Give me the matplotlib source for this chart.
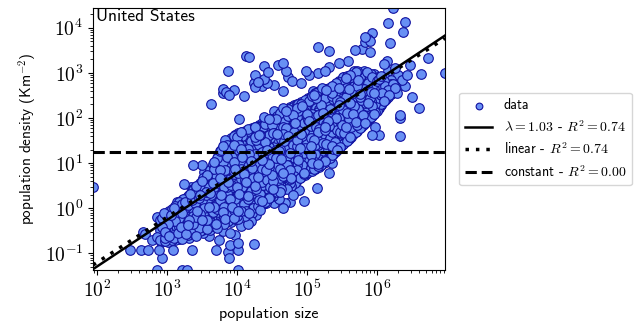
import numpy as np
import matplotlib
matplotlib.use("Agg")
import matplotlib.pyplot as plt
from matplotlib.ticker import FuncFormatter, NullFormatter

plt.rcParams['mathtext.fontset'] = 'cm'
plt.rcParams['font.family'] = ['cmss10', 'DejaVu Sans']
plt.rcParams['axes.unicode_minus'] = False

# ---- data (log10 population size, log10 density) ----
# dense core of the cloud, one list of log10 densities per log10 size column
core_columns = {
    2.90: [-0.70, -0.48, -0.26],
    2.95: [-0.60, -0.38],
    3.00: [-0.68, -0.46, -0.24],
    3.05: [-0.58, -0.36, -0.14],
    3.10: [-0.66, -0.44, -0.22, 0.00],
    3.15: [-0.55, -0.33, -0.11, 0.08],
    3.20: [-0.63, -0.41, -0.19, 0.03],
    3.25: [-0.52, -0.30, -0.08, 0.14],
    3.30: [-0.59, -0.37, -0.15, 0.07, 0.27],
    3.35: [-0.48, -0.26, -0.04, 0.18, 0.36],
    3.40: [-0.55, -0.33, -0.11, 0.11, 0.33],
    3.45: [-0.44, -0.22, 0.00, 0.22, 0.44],
    3.50: [-0.48, -0.26, -0.04, 0.18, 0.40, 0.60],
    3.55: [-0.37, -0.15, 0.07, 0.29, 0.51, 0.69],
    3.60: [-0.42, -0.20, 0.02, 0.24, 0.46, 0.68],
    3.65: [-0.31, -0.09, 0.13, 0.35, 0.57, 0.79, 0.92],
    3.70: [-0.36, -0.14, 0.08, 0.30, 0.52, 0.74, 0.96],
    3.75: [-0.25, -0.03, 0.19, 0.41, 0.63, 0.85, 1.07, 1.22],
    3.80: [-0.30, -0.08, 0.14, 0.36, 0.58, 0.80, 1.02, 1.24, 1.37],
    3.85: [-0.19, 0.03, 0.25, 0.47, 0.69, 0.91, 1.13, 1.35],
    3.90: [-0.24, -0.02, 0.20, 0.42, 0.64, 0.86, 1.08, 1.30, 1.52],
    3.95: [-0.13, 0.09, 0.31, 0.53, 0.75, 0.97, 1.19, 1.41, 1.59],
    4.00: [-0.18, 0.04, 0.26, 0.48, 0.70, 0.92, 1.14, 1.36, 1.58],
    4.05: [-0.07, 0.15, 0.37, 0.59, 0.81, 1.03, 1.25, 1.47, 1.66],
    4.10: [-0.12, 0.10, 0.32, 0.54, 0.76, 0.98, 1.20, 1.42, 1.64],
    4.15: [-0.01, 0.21, 0.43, 0.65, 0.87, 1.09, 1.31, 1.53, 1.72],
    4.20: [-0.06, 0.16, 0.38, 0.60, 0.82, 1.04, 1.26, 1.48, 1.70],
    4.25: [0.05, 0.27, 0.49, 0.71, 0.93, 1.15, 1.37, 1.59, 1.77],
    4.30: [0.04, 0.26, 0.48, 0.70, 0.92, 1.14, 1.36, 1.58, 1.79],
    4.35: [0.15, 0.37, 0.59, 0.81, 1.03, 1.25, 1.47, 1.69, 1.83],
    4.40: [0.14, 0.36, 0.58, 0.80, 1.02, 1.24, 1.46, 1.68, 1.87],
    4.45: [0.25, 0.47, 0.69, 0.91, 1.13, 1.35, 1.57, 1.79, 1.92],
    4.50: [0.30, 0.52, 0.74, 0.96, 1.18, 1.40, 1.62, 1.84, 1.97],
    4.55: [0.41, 0.63, 0.85, 1.07, 1.29, 1.51, 1.73, 1.95],
    4.60: [0.38, 0.60, 0.82, 1.04, 1.26, 1.48, 1.70, 1.92, 2.06],
    4.65: [0.49, 0.71, 0.93, 1.15, 1.37, 1.59, 1.81, 2.03],
    4.70: [0.46, 0.68, 0.90, 1.12, 1.34, 1.56, 1.78, 2.00, 2.16],
    4.75: [0.57, 0.79, 1.01, 1.23, 1.45, 1.67, 1.89, 2.11],
    4.80: [0.52, 0.74, 0.96, 1.18, 1.40, 1.62, 1.84, 2.06, 2.25],
    4.85: [0.63, 0.85, 1.07, 1.29, 1.51, 1.73, 1.95, 2.17],
    4.90: [0.68, 0.90, 1.12, 1.34, 1.56, 1.78, 2.00, 2.22],
    4.95: [0.79, 1.01, 1.23, 1.45, 1.67, 1.89, 2.11, 2.33],
    5.00: [0.78, 1.00, 1.22, 1.44, 1.66, 1.88, 2.10, 2.32],
    5.05: [0.89, 1.11, 1.33, 1.55, 1.77, 1.99, 2.21, 2.43],
    5.10: [0.86, 1.08, 1.30, 1.52, 1.74, 1.96, 2.18, 2.40, 2.52],
    5.15: [0.97, 1.19, 1.41, 1.63, 1.85, 2.07, 2.29, 2.51],
    5.20: [0.96, 1.18, 1.40, 1.62, 1.84, 2.06, 2.28, 2.50],
    5.25: [1.07, 1.29, 1.51, 1.73, 1.95, 2.17, 2.39, 2.61],
    5.30: [1.06, 1.28, 1.50, 1.72, 1.94, 2.16, 2.38, 2.60],
    5.35: [1.17, 1.39, 1.61, 1.83, 2.05, 2.27, 2.49, 2.68],
    5.40: [1.24, 1.46, 1.68, 1.90, 2.12, 2.34, 2.56, 2.72],
    5.45: [1.35, 1.57, 1.79, 2.01, 2.23, 2.45, 2.67],
    5.50: [1.40, 1.62, 1.84, 2.06, 2.28, 2.50, 2.72, 2.86],
    5.55: [1.51, 1.73, 1.95, 2.17, 2.39, 2.61, 2.83],
    5.60: [1.54, 1.76, 1.98, 2.20, 2.42, 2.64, 2.86],
    5.65: [1.65, 1.87, 2.09, 2.31, 2.53, 2.75, 2.97],
    5.70: [1.70, 1.92, 2.14, 2.36, 2.58, 2.80, 3.02],
    5.75: [1.81, 2.03, 2.25, 2.47, 2.69, 2.91],
    5.80: [1.84, 2.06, 2.28, 2.50, 2.72, 2.94],
    5.85: [1.95, 2.17, 2.39, 2.61, 2.83, 3.02],
    5.90: [2.00, 2.22, 2.44, 2.66, 2.88],
    5.95: [2.11, 2.33, 2.55, 2.77, 2.97],
    6.00: [2.16, 2.38, 2.60, 2.82],
    6.05: [2.29, 2.51, 2.73, 2.93],
    6.10: [2.38, 2.60, 2.82],
    6.15: [2.49, 2.71],
    6.20: [2.53, 2.75],
    6.25: [2.66],
}

# second pass over the core, between the columns above
core_columns_b = {
    2.925: [-0.64, -0.42, -0.22],
    2.975: [-0.73, -0.52, -0.30, -0.17],
    3.025: [-0.62, -0.40, -0.19],
    3.075: [-0.70, -0.50, -0.27, -0.06],
    3.125: [-0.60, -0.39, -0.16, 0.05],
    3.175: [-0.68, -0.47, -0.25, -0.02, 0.12],
    3.225: [-0.57, -0.35, -0.13, 0.09, 0.20],
    3.275: [-0.64, -0.43, -0.21, 0.01, 0.22],
    3.325: [-0.53, -0.31, -0.09, 0.13, 0.32],
    3.375: [-0.60, -0.40, -0.17, 0.05, 0.27, 0.43],
    3.425: [-0.49, -0.27, -0.06, 0.16, 0.38, 0.50],
    3.475: [-0.53, -0.32, -0.10, 0.12, 0.34, 0.55],
    3.525: [-0.43, -0.21, 0.01, 0.23, 0.45, 0.64],
    3.575: [-0.47, -0.26, -0.04, 0.18, 0.40, 0.62, 0.74],
    3.625: [-0.37, -0.15, 0.07, 0.29, 0.51, 0.73, 0.86],
    3.675: [-0.41, -0.20, 0.02, 0.24, 0.46, 0.68, 0.88, 1.02],
    3.725: [-0.31, -0.09, 0.13, 0.35, 0.57, 0.79, 1.01, 1.15],
    3.775: [-0.35, -0.14, 0.08, 0.30, 0.52, 0.74, 0.96, 1.18, 1.30],
    3.825: [-0.25, -0.03, 0.19, 0.41, 0.63, 0.85, 1.07, 1.29, 1.42],
    3.875: [-0.29, -0.08, 0.14, 0.36, 0.58, 0.80, 1.02, 1.24, 1.46],
    3.925: [-0.19, 0.03, 0.25, 0.47, 0.69, 0.91, 1.13, 1.35, 1.56],
    3.975: [-0.23, -0.02, 0.20, 0.42, 0.64, 0.86, 1.08, 1.30, 1.50, 1.62],
    4.025: [-0.13, 0.09, 0.31, 0.53, 0.75, 0.97, 1.19, 1.41, 1.61],
    4.075: [-0.16, 0.04, 0.26, 0.48, 0.70, 0.92, 1.14, 1.36, 1.57, 1.68],
    4.125: [-0.07, 0.15, 0.37, 0.59, 0.81, 1.03, 1.25, 1.47, 1.67],
    4.175: [-0.10, 0.11, 0.33, 0.55, 0.77, 0.99, 1.21, 1.43, 1.64, 1.74],
    4.225: [0.00, 0.22, 0.44, 0.66, 0.88, 1.10, 1.32, 1.54, 1.75],
    4.275: [-0.01, 0.20, 0.42, 0.64, 0.86, 1.08, 1.30, 1.52, 1.72],
    4.325: [0.09, 0.31, 0.53, 0.75, 0.97, 1.19, 1.41, 1.63, 1.82],
    4.375: [0.09, 0.30, 0.52, 0.74, 0.96, 1.18, 1.40, 1.62, 1.80],
    4.425: [0.19, 0.41, 0.63, 0.85, 1.07, 1.29, 1.51, 1.73, 1.90],
    4.475: [0.25, 0.46, 0.68, 0.90, 1.12, 1.34, 1.56, 1.78, 1.95],
    4.525: [0.35, 0.57, 0.79, 1.01, 1.23, 1.45, 1.67, 1.89, 2.00],
    4.575: [0.36, 0.54, 0.76, 0.98, 1.20, 1.42, 1.64, 1.86, 2.04],
    4.625: [0.43, 0.65, 0.87, 1.09, 1.31, 1.53, 1.75, 1.97, 2.10],
    4.675: [0.42, 0.62, 0.84, 1.06, 1.28, 1.50, 1.72, 1.94, 2.13],
    4.725: [0.51, 0.73, 0.95, 1.17, 1.39, 1.61, 1.83, 2.05, 2.19],
    4.775: [0.50, 0.68, 0.90, 1.12, 1.34, 1.56, 1.78, 2.00, 2.20],
    4.825: [0.57, 0.79, 1.01, 1.23, 1.45, 1.67, 1.89, 2.11, 2.27],
    4.875: [0.66, 0.84, 1.06, 1.28, 1.50, 1.72, 1.94, 2.16, 2.30],
    4.925: [0.73, 0.95, 1.17, 1.39, 1.61, 1.83, 2.05, 2.27],
    4.975: [0.74, 0.90, 1.12, 1.34, 1.56, 1.78, 2.00, 2.22, 2.40],
    5.025: [0.83, 1.05, 1.27, 1.49, 1.71, 1.93, 2.15, 2.37],
    5.075: [0.82, 1.00, 1.22, 1.44, 1.66, 1.88, 2.10, 2.32, 2.48],
    5.125: [0.91, 1.13, 1.35, 1.57, 1.79, 2.01, 2.23, 2.45, 2.55],
    5.175: [0.92, 1.10, 1.32, 1.54, 1.76, 1.98, 2.20, 2.42, 2.60],
    5.225: [1.01, 1.23, 1.45, 1.67, 1.89, 2.11, 2.33, 2.55, 2.64],
    5.275: [1.02, 1.20, 1.42, 1.64, 1.86, 2.08, 2.30, 2.52, 2.63],
    5.325: [1.11, 1.33, 1.55, 1.77, 1.99, 2.21, 2.43, 2.62],
    5.375: [1.20, 1.32, 1.54, 1.76, 1.98, 2.20, 2.42, 2.62, 2.72],
    5.425: [1.29, 1.51, 1.73, 1.95, 2.17, 2.39, 2.61, 2.76],
    5.475: [1.36, 1.48, 1.70, 1.92, 2.14, 2.36, 2.58, 2.80],
    5.525: [1.45, 1.67, 1.89, 2.11, 2.33, 2.55, 2.77, 2.90],
    5.575: [1.50, 1.68, 1.90, 2.12, 2.34, 2.56, 2.78, 2.94],
    5.625: [1.59, 1.81, 2.03, 2.25, 2.47, 2.69, 2.91],
    5.675: [1.68, 1.82, 2.04, 2.26, 2.48, 2.70, 2.92, 3.04],
    5.725: [1.75, 1.97, 2.19, 2.41, 2.63, 2.85, 3.03],
    5.775: [1.80, 1.96, 2.18, 2.40, 2.62, 2.84, 3.00],
    5.825: [1.89, 2.11, 2.33, 2.55, 2.77, 2.96],
    5.875: [1.98, 2.12, 2.34, 2.56, 2.78, 2.97],
    5.925: [2.05, 2.27, 2.49, 2.71, 2.92],
    5.975: [2.13, 2.30, 2.52, 2.74, 2.90],
    6.025: [2.22, 2.44, 2.66, 2.86],
    6.075: [2.33, 2.55, 2.77, 2.90],
    6.125: [2.43, 2.63, 2.80],
    6.175: [2.52, 2.70, 2.84],
    6.225: [2.60, 2.76],
}

# third pass, irregular, to fill the core the way the picture does
core_columns_c = {
    2.912: [-0.75, -0.55, -0.31, -0.20],
    2.962: [-0.66, -0.49, -0.27],
    3.012: [-0.74, -0.57, -0.35, -0.18],
    3.062: [-0.64, -0.47, -0.29, -0.10, -0.02],
    3.112: [-0.71, -0.53, -0.28, -0.12, 0.06],
    3.162: [-0.61, -0.42, -0.21, -0.05, 0.13],
    3.212: [-0.69, -0.50, -0.33, -0.10, 0.10, 0.18],
    3.262: [-0.58, -0.39, -0.18, 0.03, 0.19],
    3.312: [-0.66, -0.46, -0.27, -0.02, 0.16, 0.30],
    3.362: [-0.55, -0.34, -0.15, 0.09, 0.26, 0.40],
    3.412: [-0.61, -0.42, -0.20, 0.02, 0.21, 0.41, 0.49],
    3.462: [-0.51, -0.31, -0.13, 0.06, 0.29, 0.50],
    3.512: [-0.55, -0.35, -0.13, 0.10, 0.27, 0.49, 0.66],
    3.562: [-0.45, -0.27, -0.08, 0.13, 0.36, 0.57, 0.72],
    3.612: [-0.48, -0.30, -0.11, 0.11, 0.33, 0.55, 0.77, 0.84],
    3.662: [-0.40, -0.18, 0.04, 0.21, 0.41, 0.63, 0.84, 0.98],
    3.712: [-0.43, -0.25, -0.02, 0.17, 0.39, 0.60, 0.83, 1.05, 1.12],
    3.762: [-0.33, -0.16, 0.05, 0.27, 0.45, 0.68, 0.91, 1.12, 1.26],
    3.812: [-0.36, -0.19, 0.02, 0.24, 0.47, 0.66, 0.89, 1.10, 1.31, 1.41],
    3.862: [-0.27, -0.10, 0.11, 0.33, 0.52, 0.74, 0.97, 1.18, 1.40, 1.48],
    3.912: [-0.31, -0.13, 0.08, 0.29, 0.51, 0.73, 0.95, 1.16, 1.39, 1.56],
    3.962: [-0.21, -0.04, 0.16, 0.38, 0.59, 0.82, 1.03, 1.25, 1.46, 1.61],
    4.012: [-0.25, -0.07, 0.13, 0.35, 0.56, 0.79, 1.01, 1.22, 1.44, 1.66],
    4.062: [-0.15, 0.02, 0.22, 0.44, 0.65, 0.86, 1.09, 1.31, 1.52, 1.69],
    4.112: [-0.18, -0.01, 0.19, 0.40, 0.62, 0.84, 1.06, 1.28, 1.50, 1.71],
    4.162: [-0.09, 0.08, 0.28, 0.50, 0.71, 0.93, 1.15, 1.36, 1.58, 1.76],
    4.212: [-0.11, 0.05, 0.25, 0.46, 0.68, 0.90, 1.11, 1.33, 1.56, 1.77],
    4.262: [-0.02, 0.13, 0.34, 0.56, 0.77, 0.99, 1.21, 1.43, 1.64, 1.80],
    4.312: [0.02, 0.18, 0.33, 0.54, 0.76, 0.97, 1.19, 1.41, 1.63, 1.84],
    4.362: [0.10, 0.24, 0.44, 0.65, 0.87, 1.08, 1.30, 1.52, 1.74, 1.88],
    4.412: [0.12, 0.29, 0.41, 0.62, 0.84, 1.06, 1.28, 1.49, 1.71, 1.91],
    4.462: [0.22, 0.38, 0.55, 0.76, 0.98, 1.19, 1.41, 1.63, 1.85, 1.98],
    4.512: [0.28, 0.43, 0.60, 0.81, 1.02, 1.24, 1.45, 1.67, 1.89, 2.02],
    4.562: [0.35, 0.49, 0.70, 0.91, 1.12, 1.34, 1.56, 1.77, 1.98, 2.07],
    4.612: [0.36, 0.52, 0.67, 0.88, 1.10, 1.32, 1.54, 1.75, 1.96, 2.11],
    4.662: [0.44, 0.58, 0.78, 0.99, 1.20, 1.42, 1.64, 1.85, 2.06, 2.17],
    4.712: [0.43, 0.61, 0.77, 0.95, 1.17, 1.39, 1.61, 1.82, 2.04, 2.20],
    4.762: [0.53, 0.64, 0.85, 1.06, 1.28, 1.50, 1.71, 1.93, 2.15, 2.24],
    4.812: [0.55, 0.71, 0.86, 1.03, 1.24, 1.46, 1.68, 1.90, 2.11, 2.28],
    4.862: [0.62, 0.76, 0.95, 1.16, 1.37, 1.59, 1.81, 2.02, 2.23, 2.32],
    4.912: [0.70, 0.83, 1.01, 1.21, 1.43, 1.65, 1.86, 2.08, 2.30, 2.36],
    4.962: [0.75, 0.86, 1.07, 1.28, 1.50, 1.71, 1.93, 2.15, 2.36],
    5.012: [0.80, 0.94, 1.11, 1.31, 1.53, 1.74, 1.96, 2.18, 2.39, 2.45],
    5.062: [0.85, 0.97, 1.17, 1.38, 1.60, 1.82, 2.03, 2.25, 2.46],
    5.112: [0.88, 1.03, 1.20, 1.41, 1.63, 1.85, 2.06, 2.28, 2.47, 2.56],
    5.162: [0.93, 1.05, 1.26, 1.48, 1.69, 1.91, 2.13, 2.35, 2.56],
    5.212: [0.98, 1.13, 1.30, 1.51, 1.72, 1.94, 2.16, 2.37, 2.58, 2.66],
    5.262: [1.04, 1.16, 1.37, 1.58, 1.80, 2.02, 2.23, 2.45, 2.65],
    5.312: [1.09, 1.22, 1.40, 1.61, 1.83, 2.05, 2.26, 2.48, 2.66],
    5.362: [1.18, 1.28, 1.48, 1.69, 1.91, 2.13, 2.34, 2.56, 2.70],
    5.412: [1.26, 1.38, 1.57, 1.79, 2.01, 2.22, 2.44, 2.65, 2.77],
    5.462: [1.33, 1.45, 1.64, 1.85, 2.07, 2.29, 2.50, 2.72, 2.82],
    5.512: [1.42, 1.54, 1.75, 1.96, 2.18, 2.40, 2.61, 2.82, 2.90],
    5.562: [1.49, 1.60, 1.81, 2.02, 2.24, 2.46, 2.67, 2.88],
    5.612: [1.57, 1.69, 1.90, 2.11, 2.33, 2.55, 2.76, 2.95],
    5.662: [1.65, 1.75, 1.96, 2.17, 2.39, 2.61, 2.82, 3.00],
    5.712: [1.72, 1.85, 2.06, 2.27, 2.49, 2.71, 2.92, 3.05],
    5.762: [1.78, 1.90, 2.11, 2.32, 2.54, 2.76, 2.97],
    5.812: [1.86, 2.00, 2.21, 2.42, 2.64, 2.86, 3.04],
    5.862: [1.94, 2.05, 2.26, 2.47, 2.69, 2.91],
    5.912: [2.02, 2.15, 2.37, 2.58, 2.80, 2.98],
    5.962: [2.10, 2.22, 2.43, 2.64, 2.86],
    6.012: [2.19, 2.32, 2.53, 2.74, 2.92],
    6.062: [2.30, 2.42, 2.63, 2.84],
    6.112: [2.41, 2.52, 2.72, 2.88],
    6.162: [2.47, 2.62, 2.80],
    6.212: [2.56, 2.70],
    6.262: [2.60, 2.72],
}

# scattered points around the core
sparse_log_pop = [
    3.63, 3.87, 4.13, 4.17, 3.80, 3.80, 3.84, 3.88, 3.96, 4.10, 4.03,
    4.25, 4.24, 4.25, 4.30, 4.36, 4.39, 4.44, 4.38, 4.42, 4.53, 4.59,
    4.66, 4.70, 4.73, 4.78, 4.66, 4.91, 4.99, 5.02, 5.16, 5.25, 5.16,
    5.31, 5.31, 5.09, 5.22, 5.30, 4.25, 4.28, 4.30, 4.39, 4.52, 4.66,
    3.97, 3.83, 4.07,
    6.22, 6.16, 6.40, 6.37, 6.19, 6.72, 6.97, 5.69, 5.82, 5.87, 5.93,
    5.82, 5.90, 5.79, 5.90, 6.14, 5.58, 5.45, 6.40, 6.47, 6.62, 6.29,
    6.50, 6.60, 6.33, 6.32, 5.97, 6.03, 5.93, 6.33, 6.10, 6.25, 6.30,
    6.20, 6.35, 6.42, 6.15,
    2.85, 3.21, 3.28, 4.01, 2.47, 2.63, 2.72, 2.88, 3.09, 3.35, 2.92,
    2.66, 2.69, 2.79, 2.86, 3.70, 3.87, 3.90, 4.01, 4.01, 3.88, 4.24,
    3.74, 3.90, 4.27, 4.32, 4.52, 4.66, 4.68, 4.75, 4.96, 4.88, 5.14,
    5.31, 5.35, 1.94, 2.85, 2.95, 3.02, 3.14, 3.37, 3.50, 3.53, 3.24,
    3.34, 3.18, 3.60, 3.80, 4.05, 4.15, 3.97, 4.20, 4.60, 4.80,
]
sparse_log_dens = [
    2.31, 3.04, 3.38, 3.36, 2.64, 2.55, 2.58, 2.52, 2.62, 2.49, 1.98,
    2.96, 2.78, 2.69, 2.80, 2.70, 2.87, 3.02, 3.16, 2.78, 2.73, 3.18,
    3.22, 3.04, 2.91, 2.82, 2.60, 2.78, 3.04, 2.96, 3.00, 3.04, 3.58,
    3.49, 3.13, 2.60, 2.62, 2.62, 1.80, 1.76, 1.69, 2.02, 2.16, 2.22,
    1.62, 1.51, 1.60,
    4.44, 4.11, 4.13, 3.91, 3.67, 3.33, 3.00, 3.51, 3.80, 3.76, 3.89,
    3.69, 3.71, 3.53, 3.47, 3.27, 3.27, 3.22, 2.71, 3.18, 2.98, 2.56,
    2.47, 2.22, 2.07, 2.00, 1.80, 1.62, 1.62, 1.60, 3.20, 3.10, 2.95,
    2.85, 2.85, 2.95, 3.05,
    -1.37, -1.37, -1.37, -1.37, -0.93, -0.93, -0.93, -0.93, -0.93, -0.93, -1.11,
    -0.53, -0.58, -0.71, -0.64, -0.93, -0.98, -0.82, -0.78, -0.93, -1.11, -0.80,
    -0.71, -0.56, -0.16, -0.04, 0.11, 0.00, 0.11, 0.13, 0.16, 0.40, 0.44,
    0.78, 1.00, 0.47, -0.20, -0.11, -0.07, 0.13, 0.96, 0.96, 0.80, 0.53,
    0.47, 0.13, -0.62, -0.50, -0.40, -0.35, -0.60, -0.28, 0.20, 0.30,
]

# fitted models: log10(dens) = slope * log10(size) + intercept
power_slope, power_icpt = 1.03, -3.35
linear_icpt = -3.20
constant_dens = 17.6

log_pop = list(sparse_log_pop)
log_dens = list(sparse_log_dens)
for cols in (core_columns, core_columns_b, core_columns_c):
    for col, vals in cols.items():
        log_pop += [col] * len(vals)
        log_dens += vals
log_pop = np.array(log_pop)
log_dens = np.array(log_dens)

# mix the drawing order so no single pass ends up on top
order = np.argsort((log_pop * 7919.0 + log_dens * 104729.0) % 1.0)
pop = 10 ** log_pop[order]
dens = 10 ** log_dens[order]

fig = plt.figure(figsize=(6.36, 3.26), dpi=100)
ax = fig.add_axes([0.1462, 0.1718, 0.5535, 0.8037])

ax.scatter(pop, dens, s=48, facecolor='#6890f4', edgecolor='#1010a0',
           linewidths=0.8, label='data', zorder=2)

xfit = np.array([pop.min(), pop.max()])
ax.plot(xfit, 10 ** (power_slope * np.log10(xfit) + power_icpt), color='black', lw=1.8,
        label=r'$\lambda = 1.03$ - $R^2 = 0.74$', zorder=3)
ax.plot(xfit, 10 ** (np.log10(xfit) + linear_icpt), color='black', lw=2.5,
        linestyle=(0, (1, 2)), label=r'linear - $R^2 = 0.74$', zorder=3)
ax.plot(xfit, [constant_dens, constant_dens], color='black', lw=2.2,
        linestyle='--', label=r'constant - $R^2 = 0.00$', zorder=3)

ax.set_xscale('log')
ax.set_yscale('log')
ax.set_xlim(pop.min(), pop.max())
ax.set_ylim(dens.min(), dens.max())

fmt = FuncFormatter(lambda v, p: r'$10^{%d}$' % round(np.log10(v)))
ax.xaxis.set_major_formatter(fmt)
ax.yaxis.set_major_formatter(fmt)
ax.xaxis.set_minor_formatter(NullFormatter())
ax.yaxis.set_minor_formatter(NullFormatter())
ax.tick_params(labelsize=14)

ax.set_xlabel('population size', fontsize=11.5)
ax.set_ylabel(r'population density (Km$^{-2}$)', fontsize=11)
ax.text(0.008, 0.995, 'United States', transform=ax.transAxes, ha='left', va='top',
        fontsize=12.5)

ax.legend(loc='center left', bbox_to_anchor=(1.04, 0.5), borderaxespad=0,
          fontsize=10, markerscale=0.7, scatterpoints=1)

fig.savefig('out.png', dpi=100)
